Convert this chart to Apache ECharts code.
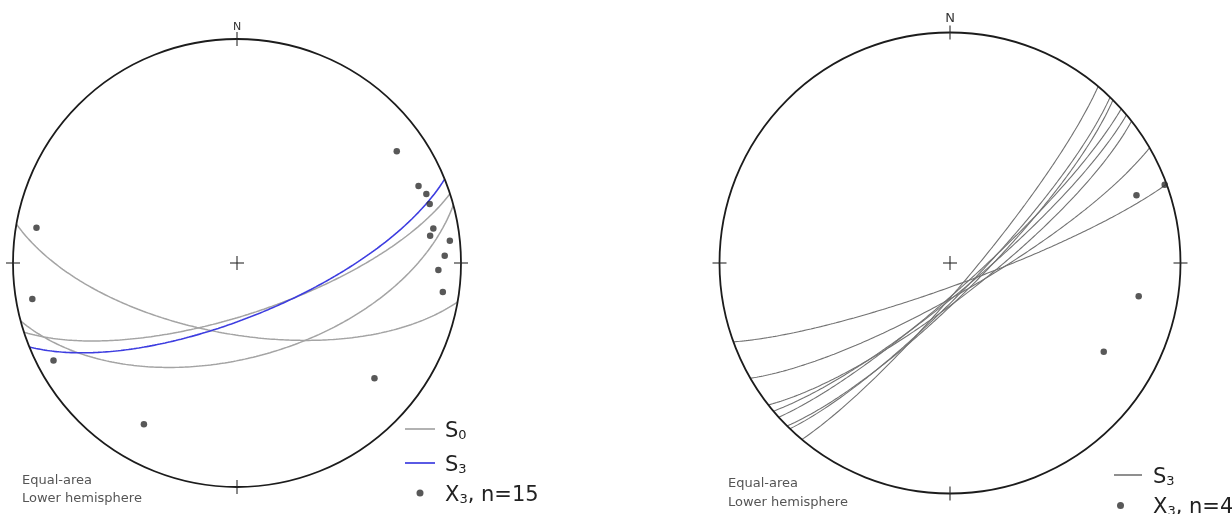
<!DOCTYPE html>
<html>
<head>
<meta charset="utf-8">
<script src="https://cdn.jsdelivr.net/npm/echarts@6/dist/echarts.min.js"></script>
<style>
html,body{margin:0;padding:0;background:#ffffff;}
#chart{width:1232px;height:514px;}
</style>
</head>
<body>
<div id="chart"></div>
<script>
// ---------------- DATA ----------------
// Planes given as strike (right-hand rule, dip direction = strike + 90) and dip, degrees
const leftS0Strike = [100, 72, 75];
const leftS0Dip    = [64, 71, 55];
const leftS3Strike = [68];
const leftS3Dip    = [70];
// Lineations X3 given as trend / plunge, degrees
const leftX3Trend  = [55, 67, 70, 73, 80, 82, 84, 88, 92, 98, 280, 260, 242, 210, 130];
const leftX3Plunge = [14, 13, 11, 11, 12, 14, 5, 8, 11, 8, 10, 8, 8, 18, 21];

const rightS3Strike = [40, 44, 45, 48, 50, 52, 60, 70];
const rightS3Dip    = [82, 80, 79, 81, 80, 78, 79, 82];
const rightX3Trend  = [70, 70, 100, 120];
const rightX3Plunge = [1, 15, 18, 24];

const projectionLabel = 'Equal-area\nLower hemisphere';
const northLabel = 'N';

// ---------------- Equal-area (Schmidt) lower-hemisphere projection ----------------
const RAD = Math.PI / 180;
function projectLine(trend, plunge) {
  const r = Math.sqrt(Math.max(0, 1 - Math.sin(plunge * RAD)));
  return [r * Math.sin(trend * RAD), r * Math.cos(trend * RAD)];
}
function greatCircle(strike, dip) {
  const s = strike * RAD, d = dip * RAD, dd = s + Math.PI / 2;
  const sv = [Math.sin(s), Math.cos(s), 0];
  const dv = [Math.cos(d) * Math.sin(dd), Math.cos(d) * Math.cos(dd), Math.sin(d)];
  const pts = [];
  for (let a = 0; a <= 180; a += 1) {
    const ca = Math.cos(a * RAD), sa = Math.sin(a * RAD);
    const e = sv[0] * ca + dv[0] * sa, n = sv[1] * ca + dv[1] * sa, z = sv[2] * ca + dv[2] * sa;
    const r = Math.sqrt(Math.max(0, 1 - z));
    const h = Math.hypot(e, n);
    pts.push(h < 1e-9 ? [0, 0] : [r * e / h, r * n / h]);
  }
  return pts;
}

// ---------------- Net frame (primitive circle, ticks, centre cross, N) ----------------
function frameRender(nFont, nOffset) {
  return function (params, api) {
    const c = api.coord([0, 0]);
    const R = api.size([1, 0])[0];
    const t = 7;
    const ls = { stroke: '#2a2a2a', lineWidth: 1.1 };
    const seg = (x1, y1, x2, y2) => ({ type: 'line', shape: { x1, y1, x2, y2 }, style: ls });
    return {
      type: 'group',
      children: [
        { type: 'circle', shape: { cx: c[0], cy: c[1], r: R }, style: { fill: null, stroke: '#1c1c1c', lineWidth: 1.8 } },
        seg(c[0] - t, c[1], c[0] + t, c[1]),
        seg(c[0], c[1] - t, c[0], c[1] + t),
        seg(c[0], c[1] - R - t, c[0], c[1] - R + t),
        seg(c[0], c[1] + R - t, c[0], c[1] + R + t),
        seg(c[0] - R - t, c[1], c[0] - R + t, c[1]),
        seg(c[0] + R - t, c[1], c[0] + R + t, c[1]),
        { type: 'text', style: { text: northLabel, x: c[0], y: c[1] - R - nOffset, align: 'center', verticalAlign: 'middle',
          fontFamily: 'DejaVu Sans', fontSize: nFont, fill: '#333' } }
      ]
    };
  };
}

// ---------------- Series ----------------
const series = [];
function addPlanes(strikes, dips, name, color, width, idx, z) {
  strikes.forEach((s, i) => {
    series.push({
      name, type: 'line', xAxisIndex: idx, yAxisIndex: idx,
      data: greatCircle(s, dips[i]), showSymbol: false, symbol: 'none',
      color, lineStyle: { color, width }, z, silent: true, animation: false
    });
  });
}
function addLineations(trends, plunges, name, idx) {
  series.push({
    name, type: 'scatter', xAxisIndex: idx, yAxisIndex: idx,
    data: trends.map((t, i) => projectLine(t, plunges[i])),
    symbol: 'circle', symbolSize: 6.5, itemStyle: { color: '#2e2e2e' }, z: 5, animation: false
  });
}
function addFrame(idx, nFont, nOffset) {
  series.push({
    type: 'custom', xAxisIndex: idx, yAxisIndex: idx, data: [[0, 0]],
    renderItem: frameRender(nFont, nOffset), z: 4, silent: true, animation: false
  });
}

const L_S0 = 'S0', L_S3 = 'S3', L_X3 = 'X3, n=' + leftX3Trend.length;
const R_S3 = 'S3 (right)', R_X3 = 'X3, n=' + rightX3Trend.length + ' (right)';

addPlanes(leftS0Strike, leftS0Dip, L_S0, '#a4a4a4', 1.5, 0, 2);
addPlanes(leftS3Strike, leftS3Dip, L_S3, '#3d3de0', 1.6, 0, 3);
addLineations(leftX3Trend, leftX3Plunge, L_X3, 0);
addFrame(0, 11, 12);

addPlanes(rightS3Strike, rightS3Dip, R_S3, '#727272', 1.1, 1, 2);
addLineations(rightX3Trend, rightX3Plunge, R_X3, 1);
addFrame(1, 13, 13.5);

// ---------------- Legends ----------------
function legendRich(name) {
  const base = name.replace(/ \(right\)$/, '');
  const m = base.match(/^([A-Z])(\d)(.*)$/);
  return '{m|' + m[1] + '}{s|' + m[2] + '}' + (m[3] ? '{m|' + m[3] + '}' : '');
}
const LINE_ICON = 'path://M0,0H30V1.7H0Z';
function legendAt(name, left, top, icon, color, iw, ih, padLeft) {
  return {
    data: [{ name, icon, itemStyle: { color, borderWidth: 0 } }],
    left, top, orient: 'vertical', padding: 0, itemWidth: iw, itemHeight: ih, itemGap: 0,
    selectedMode: false, formatter: legendRich,
    textStyle: {
      padding: [5, 0, 0, padLeft],
      rich: {
        m: { fontFamily: 'DejaVu Sans', fontSize: 21, color: '#222', verticalAlign: 'bottom' },
        s: { fontFamily: 'DejaVu Sans', fontSize: 13, color: '#222', verticalAlign: 'bottom' }
      }
    }
  };
}

const option = {
  backgroundColor: '#ffffff',
  animation: false,
  grid: [
    { left: 13, top: 39, width: 448, height: 448 },
    { left: 719.5, top: 32.5, width: 461, height: 461 }
  ],
  xAxis: [
    { type: 'value', gridIndex: 0, min: -1, max: 1, show: false },
    { type: 'value', gridIndex: 1, min: -1, max: 1, show: false }
  ],
  yAxis: [
    { type: 'value', gridIndex: 0, min: -1, max: 1, show: false },
    { type: 'value', gridIndex: 1, min: -1, max: 1, show: false }
  ],
  title: [
    { text: projectionLabel, left: 22, top: 471, padding: 0,
      textStyle: { fontFamily: 'DejaVu Sans', fontSize: 13, fontWeight: 'normal', color: '#555', lineHeight: 18.5 } },
    { text: projectionLabel, left: 728, top: 474, padding: 0,
      textStyle: { fontFamily: 'DejaVu Sans', fontSize: 13, fontWeight: 'normal', color: '#555', lineHeight: 19 } }
  ],
  legend: [
    legendAt(L_S0, 405, 421, LINE_ICON, '#a4a4a4', 30, 14, 5),
    legendAt(L_S3, 405, 455, LINE_ICON, '#3d3de0', 30, 14, 5),
    legendAt(L_X3, 416.5, 485, 'circle', '#2e2e2e', 30, 7, 5),
    legendAt(R_S3, 1114, 467, LINE_ICON, '#727272', 28, 14, 6),
    legendAt(R_X3, 1117, 497.5, 'circle', '#2e2e2e', 13, 7, 21)
  ],
  series
};

const chart = echarts.init(document.getElementById('chart'), null, { renderer: 'canvas' });
chart.setOption(option);
</script>
</body>
</html>
